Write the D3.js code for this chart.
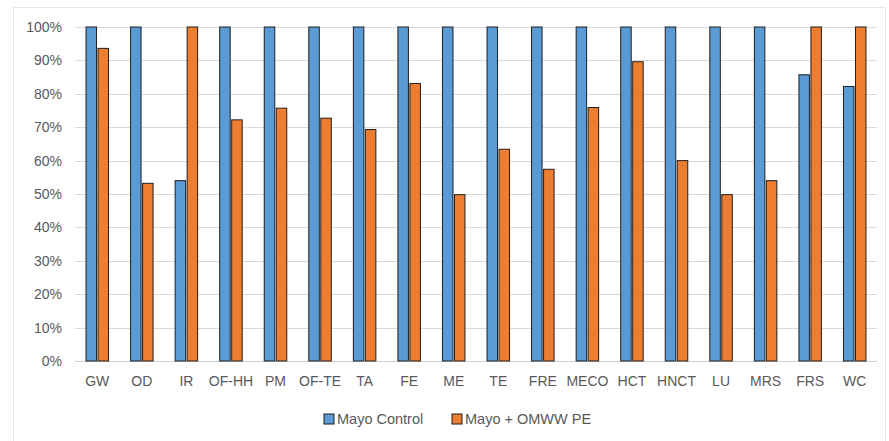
<!DOCTYPE html>
<html><head><meta charset="utf-8">
<script src="https://cdn.jsdelivr.net/npm/d3@7"></script>
<style>body{margin:0;background:#fff}svg{display:block}text{font-family:"Liberation Sans",Arial,sans-serif;fill:#595959}</style>
</head><body><svg id="c" width="889" height="441"></svg>
<script>
const categories = ["GW","OD","IR","OF-HH","PM","OF-TE","TA","FE","ME","TE","FRE","MECO","HCT","HNCT","LU","MRS","FRS","WC"];
const mayoControl = [100,100,54,100,100,100,100,100,100,100,100,100,100,100,100,100,85.7,82.2];
const mayoOmww = [93.6,53.2,100,72.2,75.7,72.7,69.3,83.1,49.8,63.4,57.4,75.9,89.6,60,49.8,54,100,100];
const seriesNames = ["Mayo Control","Mayo + OMWW PE"];
const yTicks = [0,10,20,30,40,50,60,70,80,90,100];
const colors = ["#5B9BD5","#ED7D31"];

const svg = d3.select("#c");
const m = {l:75, r:12, t:27, b:80};
const W = 889, H = 441;
const x = d3.scaleBand().domain(categories).range([m.l, W - m.r]);
const y = d3.scaleLinear().domain([0,100]).range([H - m.b, m.t]);

// chart border
svg.append("rect").attr("x",13.5).attr("y",7.5).attr("width",872).attr("height",440)
  .attr("fill","none").attr("stroke","#e6e6e6");

// gridlines
svg.append("g").selectAll("line").data(yTicks).join("line")
  .attr("x1",m.l).attr("x2",W-m.r)
  .attr("y1",d=>Math.round(y(d))+0.5).attr("y2",d=>Math.round(y(d))+0.5)
  .attr("stroke",d=>d===0?"#d0d0d0":"#d9d9d9").attr("stroke-width",1);

// y labels
const yAxis = d3.axisLeft(y).tickValues(yTicks).tickFormat(d=>d+"%").tickSize(0).tickPadding(13);
const ya = svg.append("g").attr("transform",`translate(${m.l},0)`).call(yAxis);
ya.select(".domain").remove();
ya.selectAll("text").attr("font-size",14).style("fill","#595959").attr("font-family","Liberation Sans, Arial, sans-serif");

// x labels
const xAxis = d3.axisBottom(x).tickSize(0).tickPadding(15);
const xa = svg.append("g").attr("transform",`translate(0,${y(0)})`).call(xAxis);
xa.select(".domain").remove();
xa.selectAll("text").attr("font-size",14).style("fill","#595959").attr("font-family","Liberation Sans, Arial, sans-serif");

// bars
const bw = 10.5, gap = 1.5;
const xs = d3.scaleBand().domain([0,1]).range([-(bw+gap/2), bw+gap/2]).paddingInner(gap/(bw+gap/2)/2);
[mayoControl, mayoOmww].forEach((vals,si)=>{
  svg.append("g").selectAll("rect").data(vals).join("rect")
    .attr("x",(d,i)=> x(categories[i]) + x.bandwidth()/2 + (si===0 ? -(bw+gap/2) : gap/2))
    .attr("y",d=>y(d))
    .attr("width",bw)
    .attr("height",d=>y(0)-y(d))
    .attr("fill",colors[si])
    .attr("stroke","#1f1f1f").attr("stroke-width",1);
});

// legend
const leg = [{x:324, tx:337},{x:452, tx:465}];
seriesNames.forEach((n,i)=>{
  svg.append("rect").attr("x",leg[i].x).attr("y",414).attr("width",10).attr("height",10)
    .attr("fill",colors[i]).attr("stroke","#1f1f1f").attr("stroke-width",1);
  svg.append("text").attr("x",leg[i].tx).attr("y",424).attr("font-size",14.5).text(n);
});
</script></body></html>
